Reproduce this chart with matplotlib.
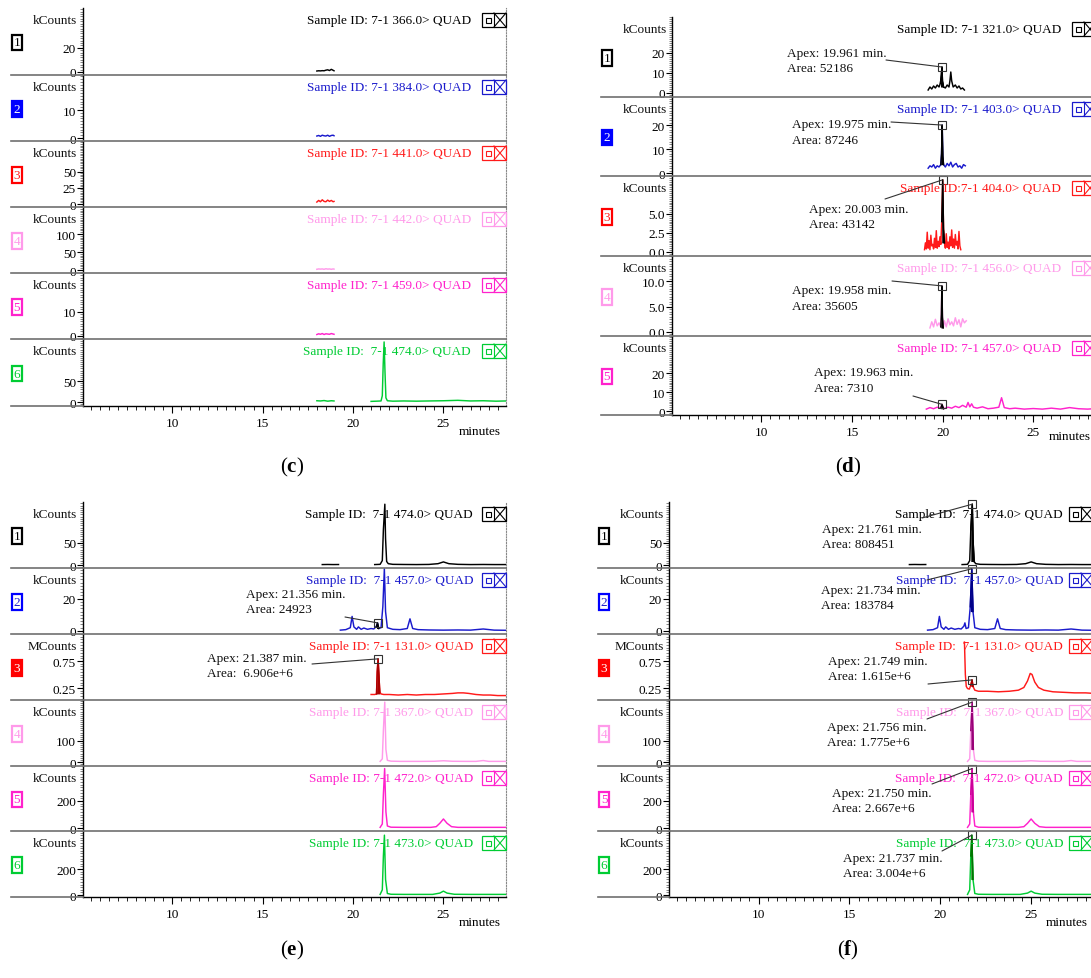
import numpy as np
import matplotlib
matplotlib.use('Agg')
import matplotlib.pyplot as plt
from matplotlib.patches import Rectangle, ConnectionPatch
from matplotlib.lines import Line2D
from matplotlib.ticker import FixedLocator, MultipleLocator, FormatStrFormatter

plt.rcParams['font.family'] = ['Liberation Serif', 'DejaVu Serif']
plt.rcParams['mathtext.fontset'] = 'custom'
plt.rcParams['mathtext.rm'] = 'Liberation Serif'
plt.rcParams['mathtext.bf'] = 'Liberation Serif:bold'

NaN = float('nan')

# ---------------------------------------------------------------- data
# panel (c)
C_TITLES = ['Sample ID: 7-1 366.0> QUAD', 'Sample ID: 7-1 384.0> QUAD',
            'Sample ID: 7-1 441.0> QUAD', 'Sample ID: 7-1 442.0> QUAD',
            'Sample ID: 7-1 459.0> QUAD', 'Sample ID:  7-1 474.0> QUAD']
C_UNITS = ['kCounts', 'kCounts', 'kCounts', 'kCounts', 'kCounts', 'kCounts']
C_YTICKS = [[0, 20], [0, 10], [0, 25, 50], [0, 50, 100], [0, 10], [0, 50]]
C1_T = [18.0, 18.1, 18.2, 18.3, 18.4, 18.5, 18.6, 18.7, 18.8, 18.9, 18.95]
C1_Y = [0.8, 1.0, 0.9, 1.1, 1.0, 1.5, 1.8, 1.2, 2.2, 1.4, 1.0]
C2_T = [18.0, 18.1, 18.2, 18.3, 18.4, 18.5, 18.6, 18.7, 18.8, 18.9, 18.95]
C2_Y = [0.7, 0.9, 0.6, 1.0, 0.8, 0.7, 1.0, 0.6, 0.9, 1.0, 0.8]
C3_T = [18.0, 18.1, 18.2, 18.3, 18.4, 18.5, 18.6, 18.7, 18.8, 18.9, 18.95]
C3_Y = [3.0, 5.5, 3.5, 6.5, 4.0, 3.5, 6.0, 4.0, 5.5, 3.5, 4.0]
C4_T = [18.0, 18.1, 18.2, 18.3, 18.4, 18.5, 18.6, 18.7, 18.8, 18.9, 18.95]
C4_Y = [2.0, 3.0, 2.5, 3.0, 2.0, 3.5, 2.5, 3.0, 2.0, 3.0, 2.5]
C5_T = [18.0, 18.1, 18.2, 18.3, 18.4, 18.5, 18.6, 18.7, 18.8, 18.9, 18.95]
C5_Y = [0.6, 0.9, 0.7, 1.0, 0.6, 0.9, 0.8, 0.7, 1.0, 0.8, 0.7]
C6_T = [18.0, 18.2, 18.4, 18.6, 18.8, 18.95, NaN, 21.0, 21.3, 21.55, 21.62,
        21.67, 21.72, 21.77, 21.82, 21.9, 22.2, 22.8, 23.5, 24.2, 25.0, 25.8,
        26.5, 27.2, 27.9, 28.46]
C6_Y = [3.0, 2.5, 3.5, 2.0, 3.0, 2.5, NaN, 1.5, 2.0, 2.5, 15, 90, 143, 70,
        10, 3.0, 2.0, 2.5, 2.0, 2.5, 3.0, 4.0, 2.5, 3.0, 2.0, 2.5]

# panel (d)
D_TITLES = ['Sample ID: 7-1 321.0> QUAD', 'Sample ID: 7-1 403.0> QUAD',
            'Sample ID:7-1 404.0> QUAD', 'Sample ID: 7-1 456.0> QUAD',
            'Sample ID: 7-1 457.0> QUAD']
D_UNITS = ['kCounts', 'kCounts', 'kCounts', 'kCounts', 'kCounts']
D_YTICKS = [[0, 10, 20], [0, 10, 20], [0.0, 2.5, 5.0], [0.0, 5.0, 10.0], [0, 10, 20]]
D_APEX = [19.961, 19.975, 20.003, 19.958, 19.963]
D_AREA = ['52186', '87246', '43142', '35605', '7310']
D1_T = [19.2, 19.3, 19.4, 19.5, 19.6, 19.7, 19.8, 19.88, 19.93, 19.961, 19.99,
        20.05, 20.15, 20.25, 20.35, 20.40, 20.45, 20.50, 20.58, 20.7, 20.8,
        20.9, 21.0, 21.1, 21.2]
D1_Y = [1.5, 3.0, 2.0, 3.5, 2.5, 4.0, 3.0, 5.0, 9.0, 13.0, 6.0, 3.0, 2.5, 4.0,
        3.0, 6.0, 10.5, 6.0, 3.0, 4.0, 2.5, 3.5, 2.0, 2.5, 1.5]
D2_T = [19.2, 19.3, 19.4, 19.5, 19.6, 19.7, 19.8, 19.9, 19.94, 19.975, 20.01,
        20.05, 20.15, 20.25, 20.35, 20.45, 20.55, 20.65, 20.75, 20.85, 20.95,
        21.05, 21.15, 21.25]
D2_Y = [2.0, 3.0, 2.5, 3.5, 2.0, 3.0, 2.5, 3.5, 8.0, 20.0, 7.0, 3.5, 2.5, 4.0,
        3.0, 4.5, 2.5, 3.5, 4.0, 2.5, 3.0, 2.0, 3.5, 3.0]
D3_T = [19.00, 19.05, 19.10, 19.15, 19.20, 19.25, 19.30, 19.35, 19.40, 19.45,
        19.50, 19.55, 19.60, 19.65, 19.70, 19.75, 19.80, 19.85, 19.90, 19.95,
        20.003, 20.05, 20.10, 20.15, 20.20, 20.25, 20.30, 20.35, 20.40, 20.45,
        20.50, 20.55, 20.60, 20.65, 20.70, 20.75, 20.80, 20.85, 20.90, 20.95,
        21.00]
D3_Y = [0.3, 1.2, 0.4, 2.6, 0.5, 1.5, 0.3, 2.2, 0.8, 1.0, 0.4, 1.8, 0.6, 2.8,
        0.5, 1.4, 0.7, 2.0, 1.0, 4.0, 9.5, 3.0, 1.2, 0.5, 2.4, 0.6, 1.3, 0.4,
        2.0, 0.8, 2.9, 0.6, 1.7, 0.5, 2.3, 0.9, 1.4, 0.4, 2.7, 0.8, 0.3]
D4_T = [19.3, 19.4, 19.5, 19.6, 19.7, 19.8, 19.9, 19.93, 19.958, 19.99, 20.03,
        20.1, 20.2, 20.3, 20.4, 20.5, 20.6, 20.7, 20.8, 20.9, 21.0, 21.1, 21.2,
        21.3]
D4_Y = [0.8, 2.0, 1.0, 2.5, 1.2, 1.8, 1.0, 3.5, 9.1, 3.0, 0.8, 2.2, 1.0, 2.6,
        1.4, 2.0, 1.2, 2.8, 1.5, 2.4, 1.0, 2.6, 1.8, 2.2]
D5_T = [19.1, 19.3, 19.5, 19.7, 19.9, 19.963, 20.05, 20.3, 20.5, 20.7, 20.9,
        21.1, 21.3, 21.4, 21.5, 21.6, 21.7, 21.9, 22.2, 22.5, 22.8, 23.1, 23.25,
        23.4, 23.7, 24.0, 24.5, 25.0, 25.5, 26.0, 26.5, 27.0, 27.5, 28.0, 28.46]
D5_Y = [1.0, 1.8, 1.2, 2.0, 1.5, 3.5, 1.2, 2.0, 1.5, 2.5, 1.8, 3.0, 2.0, 4.5,
        2.2, 3.8, 2.0, 1.5, 2.2, 1.2, 1.5, 2.0, 7.0, 1.8, 1.2, 1.5, 1.0, 1.3,
        1.0, 1.5, 1.0, 1.8, 1.2, 1.0, 1.3]

# panels (e) and (f)
E_TITLES = ['Sample ID:  7-1 474.0> QUAD', 'Sample ID:  7-1 457.0> QUAD',
            'Sample ID: 7-1 131.0> QUAD', 'Sample ID: 7-1 367.0> QUAD',
            'Sample ID: 7-1 472.0> QUAD', 'Sample ID: 7-1 473.0> QUAD']
F_TITLES = ['Sample ID:  7-1 474.0> QUAD', 'Sample ID:  7-1 457.0> QUAD',
            'Sample ID:  7-1 131.0> QUAD', 'Sample ID:  7-1 367.0> QUAD',
            'Sample ID:  7-1 472.0> QUAD', 'Sample ID:  7-1 473.0> QUAD']
E_UNITS = ['kCounts', 'kCounts', 'MCounts', 'kCounts', 'kCounts', 'kCounts']
E_YTICKS = [[0, 50], [0, 20], [0.25, 0.75], [0, 100], [0, 200], [0, 200]]
E_APEX = [21.356, 21.387]
E_AREA = ['24923', ' 6.906e+6']
F_APEX = [21.761, 21.734, 21.749, 21.756, 21.750, 21.737]
F_AREA = ['808451', '183784', '1.615e+6', '1.775e+6', '2.667e+6', '3.004e+6']
E1_T = [18.3, 18.6, 18.9, 19.2, NaN, 21.2, 21.5, 21.62, 21.68, 21.761, 21.80,
        21.86, 21.95, 22.2, 22.8, 23.5, 24.2, 24.7, 25.0, 25.3, 25.8, 26.5,
        27.2, 27.8, 28.46]
E1_Y = [1.0, 1.2, 1.0, 1.1, NaN, 1.0, 1.5, 10, 80, 138, 60, 8, 3.0, 1.5, 1.2,
        1.0, 1.3, 3.0, 7.0, 3.0, 1.5, 1.0, 1.2, 1.0, 1.0]
E2_T = [19.3, 19.6, 19.85, 19.95, 20.05, 20.2, 20.3, 20.45, 20.6, 20.8, 21.0,
        21.15, 21.3, 21.356, 21.42, 21.55, 21.65, 21.734, 21.80, 21.9, 22.2,
        22.6, 23.0, 23.15, 23.3, 23.6, 24.2, 25.0, 25.8, 26.5, 27.2, 27.8, 28.46]
E2_Y = [0.5, 0.8, 2.0, 9.0, 2.5, 1.0, 2.5, 1.0, 1.8, 1.0, 1.5, 1.2, 3.0, 5.0,
        1.5, 2.0, 15, 38.5, 12, 2.0, 1.0, 0.8, 1.5, 7.5, 1.5, 0.8, 0.6, 0.5,
        0.6, 0.5, 1.2, 0.5, 0.4]
E3_T = [21.0, 21.2, 21.3, 21.34, 21.387, 21.43, 21.48, 21.55, 21.7, 22.0, 22.5,
        23.0, 23.5, 24.0, 24.5, 25.0, 25.5, 25.8, 26.1, 26.4, 26.8, 27.2, 27.6,
        28.0, 28.46]
E3_Y = [0.13, 0.13, 0.14, 0.55, 0.79, 0.50, 0.18, 0.14, 0.13, 0.13, 0.12, 0.13,
        0.12, 0.13, 0.13, 0.14, 0.15, 0.16, 0.16, 0.15, 0.13, 0.12, 0.12, 0.11,
        0.11]
E4_T = [21.5, 21.62, 21.68, 21.756, 21.82, 21.9, 22.1, 22.6, 23.2, 23.8, 24.5,
        25.0, 25.5, 26.2, 26.8, 27.2, 27.5, 28.0, 28.46]
E4_Y = [3, 15, 150, 285, 60, 8, 4, 3, 3, 3, 3.5, 6, 3.5, 3, 3, 7, 3, 3, 3]
E5_T = [21.5, 21.62, 21.68, 21.75, 21.82, 21.9, 22.1, 22.8, 23.6, 24.3, 24.6,
        24.8, 25.0, 25.2, 25.45, 25.8, 26.5, 27.5, 28.46]
E5_Y = [5, 30, 250, 440, 120, 15, 6, 5, 5, 5, 10, 35, 67, 35, 10, 5, 5, 5, 5]
E6_T = [21.5, 21.62, 21.68, 21.737, 21.80, 21.9, 22.1, 22.8, 23.6, 24.4, 24.8,
        25.0, 25.2, 25.6, 26.5, 27.5, 28.46]
E6_Y = [5, 40, 300, 460, 120, 12, 6, 5, 5, 5, 15, 30, 15, 6, 5, 5, 5]
F3_T = [21.33, 21.38, 21.43, 21.5, 21.6, 21.68, 21.749, 21.8, 21.9, 22.1, 22.6,
        23.2, 23.8, 24.3, 24.6, 24.8, 24.95, 25.05, 25.2, 25.4, 25.7, 26.2,
        26.8, 27.4, 28.0, 28.46]
F3_Y = [1.10, 0.50, 0.28, 0.24, 0.23, 0.30, 0.40, 0.28, 0.21, 0.19, 0.19, 0.18,
        0.19, 0.21, 0.26, 0.38, 0.52, 0.50, 0.36, 0.26, 0.21, 0.18, 0.17, 0.16,
        0.16, 0.15]

# ---------------------------------------------------------------- style / layout
W, H = 1091, 979
COL6 = ['#000000', '#1a1acc', '#ff1a1a', '#ff9aea', '#ff22cc', '#00cc33']
COL5 = ['#000000', '#1a1acc', '#ff1a1a', '#ff9aea', '#ff22cc']
BOXFILL = {'#1a1acc': '#0000ff', '#ff1a1a': '#ff0000'}
XLIM = (5.07, 28.46)

fig = plt.figure(figsize=(W / 100, H / 100), dpi=100)


def fp(x, y):
    return (x / W, 1 - y / H)


def draw_icon(x0, rt, col):
    kw = dict(transform=fig.transFigure, color=col, lw=0.8)
    fig.add_artist(Rectangle(fp(x0, rt + 19), 24 / W, 14 / H, fill=False,
                             ec=col, lw=0.9, transform=fig.transFigure))
    fig.add_artist(Rectangle(fp(x0 + 4, rt + 14.5), 4.5 / W, 4.5 / H, fill=False,
                             ec=col, lw=0.8, transform=fig.transFigure))
    for xs, ys in [([x0 + 12, x0 + 12], [rt + 5, rt + 19]),
                   ([x0 + 12, x0 + 24], [rt + 5, rt + 19]),
                   ([x0 + 12, x0 + 24], [rt + 19, rt + 5])]:
        fig.add_artist(Line2D([x / W for x in xs], [1 - y / H for y in ys], **kw))


def draw_panel(P):
    n = len(P['bottoms'])
    tops = [P['top']] + P['bottoms'][:-1]
    axes = []
    for i in range(n):
        t, b = tops[i], P['bottoms'][i]
        ax = fig.add_axes([P['left'] / W, 1 - b / H, (P['right'] - P['left']) / W, (b - t) / H])
        ax.patch.set_alpha(0)
        ax.set_xlim(*XLIM)
        ax.set_ylim(*P['ylims'][i])
        T = np.array(P['T'][i], float)
        Y = np.array(P['Y'][i], float)
        col = P['colors'][i]
        ax.plot(T, Y, color=col, lw=1.05, zorder=3)
        ax.spines['top'].set_visible(False)
        ax.spines['right'].set_linestyle((0, (1, 1.5)))
        ax.spines['right'].set_color('#888888')
        ax.spines['right'].set_linewidth(0.8)
        ax.spines['left'].set_linewidth(1.0)
        yt = P['yticks'][i]
        ax.yaxis.set_major_locator(FixedLocator(yt))
        ax.yaxis.set_major_formatter(FormatStrFormatter(P['fmts'][i]))
        ax.yaxis.set_minor_locator(MultipleLocator((yt[1] - yt[0]) / 10))
        ax.tick_params(axis='y', which='major', direction='out', length=4, width=0.8,
                       labelsize=9.5, pad=1)
        ax.tick_params(axis='y', which='minor', direction='out', length=2.5, width=0.5,
                       color='#555555')
        if i < n - 1:
            ax.spines['bottom'].set_visible(False)
            ax.tick_params(axis='x', which='both', bottom=False, labelbottom=False)
            fig.add_artist(Line2D([P['div_left'] / W, P['right'] / W], [1 - b / H] * 2,
                                  color='#707070', lw=1.2))
        else:
            ax.spines['bottom'].set_linewidth(1.0)
            ax.xaxis.set_major_locator(FixedLocator([10, 15, 20, 25]))
            ax.xaxis.set_minor_locator(MultipleLocator(0.5))
            ax.tick_params(axis='x', which='major', direction='out', length=5, width=0.8,
                           labelsize=9.5, pad=3)
            ax.tick_params(axis='x', which='minor', direction='out', length=3, width=0.6)
            fig.add_artist(Line2D([P['div_left'] / W, P['left'] / W], [1 - b / H] * 2,
                                  color='#707070', lw=1.2))
        # row texts
        fig.text(*fp(P['title_right'], t + 12), P['titles'][i], ha='right', va='center',
                 fontsize=9.5, color=col)
        draw_icon(P['icon_x0'], t, col)
        fig.text(*fp(P['unit_right'], t + 12), P['units'][i], ha='right', va='center',
                 fontsize=9.5, color='#111111')
        filled = P['filled'][i]
        bc = BOXFILL.get(col, col)
        fig.text(*fp(P['box_x'], (t + b) / 2 + 1), str(i + 1), ha='center', va='center',
                 fontsize=9.5, color='white' if filled else col,
                 bbox=dict(boxstyle='square,pad=0.14', fc=bc if filled else 'white',
                           ec=bc, lw=1.6))
        axes.append((ax, T, Y))

    for (i, apex, area, txy, lxy, fcol) in P['ann']:
        ax, T, Y = axes[i]
        win = (T >= apex - 0.07) & (T <= apex + 0.07)
        ym = np.nanmax(Y[win])
        m = (T >= apex - 0.1) & (T <= apex + 0.1)
        ax.fill_between(T[m], Y[m], np.nanmin(Y[m]), color=fcol, lw=0, zorder=4)
        ax.plot(T[m], Y[m], color=fcol, lw=1.05, zorder=4)
        ax.plot([apex], [ym], marker='s', ms=6, mfc='none', mec='#333333', mew=0.8,
                clip_on=False, zorder=6)
        fig.text(*fp(txy[0], txy[1]), f'Apex: {apex:.3f} min.', ha='left', va='center',
                 fontsize=9.5, color='#111111')
        fig.text(*fp(txy[0], txy[1] + 15.5), f'Area: {area}', ha='left', va='center',
                 fontsize=9.5, color='#111111')
        con = ConnectionPatch(xyA=fp(*lxy), coordsA='figure fraction', xyB=(apex, ym),
                              coordsB='data', axesB=ax, color='#333333', lw=0.8, zorder=6)
        fig.add_artist(con)

    fig.text(*fp(*P['minutes']), 'minutes', ha='center', va='center', fontsize=9.5)
    fig.text(*fp(*P['caption']), P['cap'], ha='center', va='center', fontsize=15)


PANEL_C = dict(
    left=83, right=506, top=9, bottoms=[76, 142, 208, 274, 340, 407],
    ylims=[(-2.5, 53), (-1.07, 22.5), (-4.6, 97), (-8.3, 175), (-1.25, 26), (-9.5, 150)],
    yticks=C_YTICKS, fmts=['%g'] * 6, colors=COL6, titles=C_TITLES, units=C_UNITS,
    filled=[False, True, False, False, False, False],
    T=[C1_T, C2_T, C3_T, C4_T, C5_T, C6_T], Y=[C1_Y, C2_Y, C3_Y, C4_Y, C5_Y, C6_Y],
    div_left=11, box_x=17, unit_right=77, title_right=471, icon_x0=482,
    ann=[], minutes=(480, 432), caption=(292, 467), cap=r'($\mathbf{c}$)')

PANEL_D = dict(
    left=672, right=1096, top=18, bottoms=[98, 177, 257, 337, 416],
    ylims=[(-2, 38), (-1.25, 31.7), (-0.53, 10), (-0.8, 15), (-2.1, 39.5)],
    yticks=D_YTICKS, fmts=['%g', '%g', '%.1f', '%.1f', '%g'], colors=COL5,
    titles=D_TITLES, units=D_UNITS, filled=[False, True, False, False, False],
    T=[D1_T, D2_T, D3_T, D4_T, D5_T], Y=[D1_Y, D2_Y, D3_Y, D4_Y, D5_Y],
    div_left=601, box_x=607, unit_right=667, title_right=1061, icon_x0=1072,
    ann=[(0, D_APEX[0], D_AREA[0], (787, 54), (886, 61), '#000000'),
         (1, D_APEX[1], D_AREA[1], (792, 125), (891, 123), '#000000'),
         (2, D_APEX[2], D_AREA[2], (809, 210), (885, 200), '#000000'),
         (3, D_APEX[3], D_AREA[3], (792, 291), (892, 282), '#000000'),
         (4, D_APEX[4], D_AREA[4], (814, 373), (913, 397), '#000000')],
    minutes=(1070, 437), caption=(848, 467), cap=r'($\mathbf{d}$)')

PANEL_E = dict(
    left=83, right=506, top=503, bottoms=[569, 635, 701, 767, 832, 898],
    ylims=[(-6.8, 143), (-1.9, 39), (0.028, 1.25), (-19, 295), (-22, 459), (-15, 492)],
    yticks=E_YTICKS, fmts=['%g', '%g', '%.2f', '%g', '%g', '%g'], colors=COL6,
    titles=E_TITLES, units=E_UNITS, filled=[False, False, True, False, False, False],
    T=[E1_T, E2_T, E3_T, E4_T, E5_T, E6_T], Y=[E1_Y, E2_Y, E3_Y, E4_Y, E5_Y, E6_Y],
    div_left=11, box_x=17, unit_right=77, title_right=473, icon_x0=482,
    ann=[(1, E_APEX[0], E_AREA[0], (246, 595), (345, 618), '#000000'),
         (2, E_APEX[1], E_AREA[1], (207, 659), (312, 665), '#aa0000')],
    minutes=(480, 923), caption=(292, 950), cap=r'($\mathbf{e}$)')

PANEL_F = dict(
    left=669, right=1094, top=503, bottoms=[569, 635, 701, 767, 832, 898],
    ylims=[(-6.8, 143), (-1.9, 39), (0.028, 1.25), (-19, 295), (-22, 459), (-15, 492)],
    yticks=E_YTICKS, fmts=['%g', '%g', '%.2f', '%g', '%g', '%g'], colors=COL6,
    titles=F_TITLES, units=E_UNITS, filled=[False, False, True, False, False, False],
    T=[E1_T, E2_T, F3_T, E4_T, E5_T, E6_T], Y=[E1_Y, E2_Y, F3_Y, E4_Y, E5_Y, E6_Y],
    div_left=598, box_x=604, unit_right=664, title_right=1063, icon_x0=1069,
    ann=[(0, F_APEX[0], F_AREA[0], (822, 530), (922, 519), '#000000'),
         (1, F_APEX[1], F_AREA[1], (821, 591), (927, 581), '#000088'),
         (2, F_APEX[2], F_AREA[2], (828, 662), (928, 685), '#aa0000'),
         (3, F_APEX[3], F_AREA[3], (827, 728), (927, 720), '#990077'),
         (4, F_APEX[4], F_AREA[4], (832, 794), (932, 785), '#cc0099'),
         (5, F_APEX[5], F_AREA[5], (843, 859), (942, 852), '#007700')],
    minutes=(1067, 923), caption=(848, 950), cap=r'($\mathbf{f}$)')

for P in (PANEL_C, PANEL_D, PANEL_E, PANEL_F):
    draw_panel(P)

fig.savefig('out.png', dpi=100, facecolor='white')
